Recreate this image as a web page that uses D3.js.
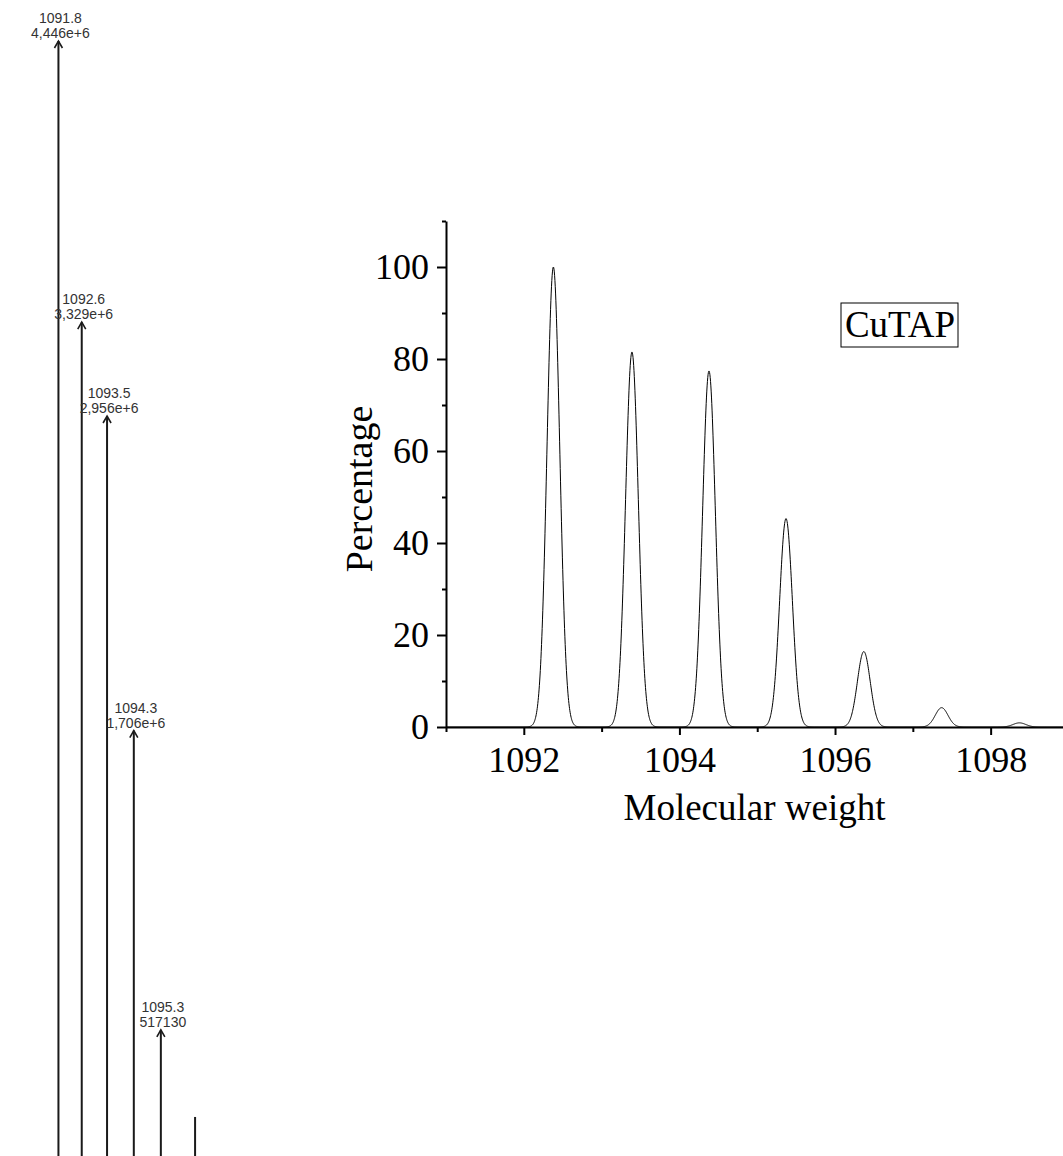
<!DOCTYPE html>
<html>
<head>
<meta charset="utf-8">
<script src="https://cdn.jsdelivr.net/npm/d3@7"></script>
<style>
  html, body { margin: 0; padding: 0; background: #fff; }
  svg { display: block; }
</style>
</head>
<body>
<svg id="chart" width="1063" height="1156"></svg>
<script>
// ---- Left panel: stick mass spectrum (m/z, intensity) ----
const stickMz = [1091.78, 1092.59, 1093.47, 1094.40, 1095.34, 1096.53];
const stickIntensity = [4446000, 3329000, 2956000, 1706000, 517130, 171000];
const stickMzLabels = ["1091.8", "1092.6", "1093.5", "1094.3", "1095.3", null];

// ---- Right panel: simulated isotope pattern ----
const peakCenters = [1092.38, 1093.39, 1094.38, 1095.37, 1096.37, 1097.37, 1098.37];
const peakHeights = [100, 81.5, 77.4, 45.3, 16.4, 4.2, 0.9];
const peakSigma = 0.082;
const xMajorTicks = [1092, 1094, 1096, 1098];
const xMinorTicks = [1091, 1093, 1095, 1097];
const yMajorTicks = [0, 20, 40, 60, 80, 100];
const yMinorTicks = [10, 30, 50, 70, 90, 110];
const xTitle = "Molecular weight";
const yTitle = "Percentage";
const compoundName = "CuTAP";

const svg = d3.select("#chart");

// ===== Left panel =====
const xL = d3.scaleLinear().domain([1091, 1097]).range([36, 208.6]);
const yL = d3.scaleLinear().domain([0, 4446000]).range([1160, 41]);

function fmtIntensity(v) {
  if (v >= 1e6) return (v / 1e6).toFixed(3).replace(".", ",") + "e+6";
  return String(v);
}

const left = svg.append("g");
stickMz.forEach((mz, i) => {
  const x = xL(mz), yTop = yL(stickIntensity[i]);
  left.append("line")
    .attr("x1", x).attr("x2", x)
    .attr("y1", yTop).attr("y2", 1160)
    .attr("stroke", "#1a1a1a").attr("stroke-width", 2);
  if (stickMzLabels[i]) {
    left.append("path")
      .attr("d", `M${x - 4},${yTop + 7} L${x},${yTop} L${x + 4},${yTop + 7}`)
      .attr("fill", "none").attr("stroke", "#1a1a1a").attr("stroke-width", 1.6);
    const t = left.append("text")
      .attr("text-anchor", "middle")
      .attr("font-family", "'Liberation Sans', Arial, sans-serif")
      .attr("font-size", 14)
      .attr("fill", "#333");
    t.append("tspan").attr("x", x + 2).attr("y", yTop - 18).text(stickMzLabels[i]);
    t.append("tspan").attr("x", x + 2).attr("y", yTop - 3).text(fmtIntensity(stickIntensity[i]));
  }
});

// ===== Right panel =====
const x = d3.scaleLinear().domain([1091, 1098.93]).range([446, 1063]);
const y = d3.scaleLinear().domain([0, 110]).range([727, 221]);

// spectrum built from the peak list (Gaussian line shape per peak)
const step = 0.004;
const spectrum = d3.range(1091, 1098.93 + step / 2, step).map(m => {
  let v = 0;
  peakCenters.forEach((c, i) => {
    v += peakHeights[i] * Math.exp(-((m - c) ** 2) / (2 * peakSigma * peakSigma));
  });
  return [m, v];
});

const right = svg.append("g");

right.append("path")
  .datum(spectrum)
  .attr("d", d3.line().x(d => x(d[0])).y(d => y(d[1])))
  .attr("fill", "none")
  .attr("stroke", "#000")
  .attr("stroke-width", 1);

const serif = "'Liberation Serif', 'Times New Roman', serif";

const gxMaj = right.append("g").attr("transform", "translate(0,727)")
  .call(d3.axisBottom(x).tickValues(xMajorTicks).tickFormat(d3.format("d"))
    .tickSize(8).tickSizeOuter(0).tickPadding(11));
const gxMin = right.append("g").attr("transform", "translate(0,727)")
  .call(d3.axisBottom(x).tickValues(xMinorTicks).tickFormat("")
    .tickSize(5).tickSizeOuter(0));
gxMin.select(".domain").remove();

const gyMaj = right.append("g").attr("transform", "translate(446,0)")
  .call(d3.axisLeft(y).tickValues(yMajorTicks).tickFormat(d3.format("d"))
    .tickSize(9).tickSizeOuter(0).tickPadding(8));
const gyMin = right.append("g").attr("transform", "translate(446,0)")
  .call(d3.axisLeft(y).tickValues(yMinorTicks).tickFormat("")
    .tickSize(4).tickSizeOuter(0));
gyMin.select(".domain").remove();

[gxMaj, gxMin, gyMaj, gyMin].forEach(g => {
  g.selectAll("path.domain").attr("stroke", "#000").attr("stroke-width", 2);
  g.selectAll(".tick line").attr("stroke", "#000").attr("stroke-width", 2);
  g.selectAll(".tick text").attr("font-family", serif).attr("font-size", 36).attr("fill", "#000");
});

right.append("text")
  .attr("x", 754.5).attr("y", 820)
  .attr("text-anchor", "middle")
  .attr("font-family", serif).attr("font-size", 37)
  .text(xTitle);

right.append("text")
  .attr("transform", "translate(372,489) rotate(-90)")
  .attr("text-anchor", "middle")
  .attr("font-family", serif).attr("font-size", 38)
  .text(yTitle);

// compound label with box
right.append("rect")
  .attr("x", 841).attr("y", 303)
  .attr("width", 117).attr("height", 44)
  .attr("fill", "none").attr("stroke", "#000").attr("stroke-width", 1);
right.append("text")
  .attr("x", 900).attr("y", 337)
  .attr("text-anchor", "middle")
  .attr("font-family", serif).attr("font-size", 37)
  .text(compoundName);
</script>
</body>
</html>
